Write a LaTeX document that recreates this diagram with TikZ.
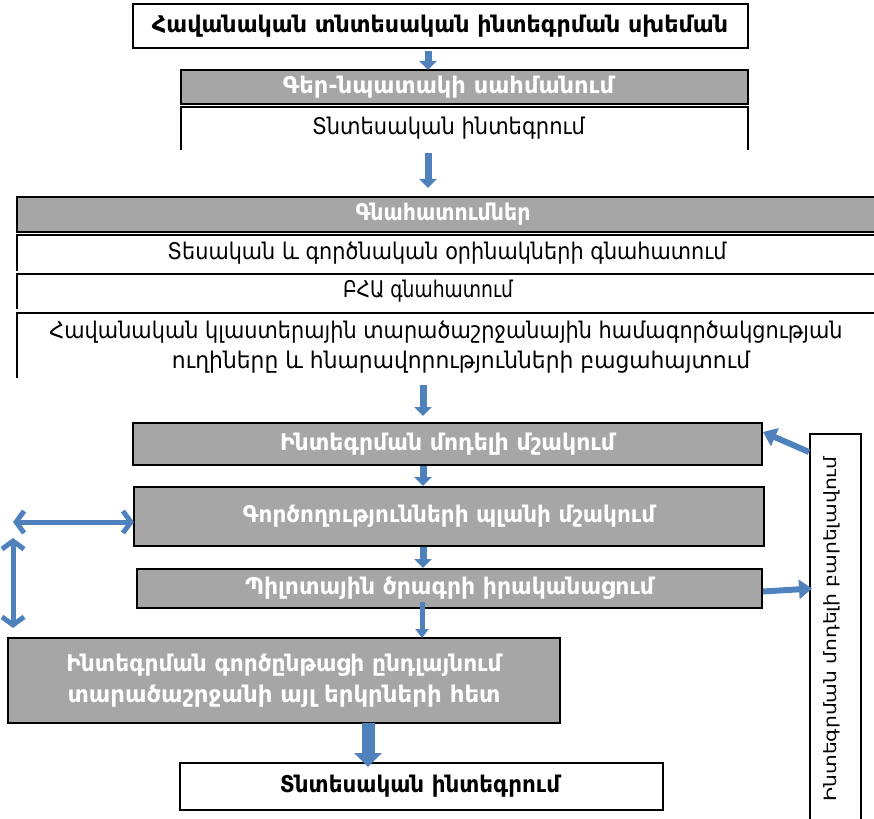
\documentclass[tikz,border=0pt]{standalone}
\usepackage{graphicx}
\usepackage{fontspec}
\setmainfont{DejaVu Sans}
\usetikzlibrary{arrows.meta,calc}
\definecolor{gbox}{HTML}{A6A6A6}
\definecolor{arr}{HTML}{4F81BD}
\newcommand\fw[2]{\resizebox{#1pt}{\height}{#2}}
\begin{document}
\begin{tikzpicture}[x=1pt,y=-1pt,
  frame/.style={draw=black,line width=2pt,inner sep=0pt,outer sep=0pt},
  graybox/.style={frame,fill=gbox,text=white,align=center,font=\bfseries\fontsize{23}{31}\selectfont},
  emptybox/.style={inner sep=0pt,outer sep=0pt},
  txt/.style={inner sep=0pt,font=\fontsize{23}{26}\selectfont},
  btxt/.style={inner sep=0pt,font=\bfseries\fontsize{23}{26}\selectfont},
  wtxt/.style={inner sep=0pt,text=white,font=\bfseries\fontsize{23}{26}\selectfont},
  sidetxt/.style={inner sep=0pt,font=\fontsize{17}{20}\selectfont},
  openside/.style={line width=2pt},
  downarr/.style={draw=arr,line width=7pt,-{Triangle[length=9pt,width=17pt]}},
  thinarr/.style={draw=arr,line width=5pt,-{Triangle[length=9pt,width=13pt]}},
  bigarr/.style={draw=arr,line width=13pt,-{Triangle[length=14pt,width=27pt]}},
  sidearr/.style={draw=arr,line width=6pt,-{Triangle[length=13pt,width=19pt]}},
  dblarr/.style={draw=arr,line width=5pt,{Straight Barb[length=8pt,width=22pt]}-{Straight Barb[length=8pt,width=22pt]}}
]
\useasboundingbox (0,0) rectangle (874,818);
\clip (0,0) rectangle (874,818);

% columns for the arrows
\coordinate (c1) at (428,0);
\coordinate (c2) at (423,0);
\coordinate (c3) at (422,0);
\coordinate (c4) at (368,0);

% top part
\node[frame,line width=2.5pt,minimum width=615pt,minimum height=44pt] (t1) at (440.5,26) {};
\node[btxt] (t1t) at (440,26) {\fw{576}{Հավանական տնտեսական ինտեգրման սխեման}};

\node[frame,line width=1.5pt,fill=gbox,minimum width=567pt,minimum height=34pt] (g1) at (464.5,87) {};
\node[wtxt] (g1t) at (448.5,87) {\fw{331}{Գեր-նպատակի սահմանում}};

\node[emptybox,minimum width=567pt,minimum height=43pt] (w1) at (464.5,128.5) {};
\draw[openside] (w1.south west) -- (w1.north west) -- (w1.north east) -- (w1.south east);
\node[txt] (w1t) at (448.5,128) {\fw{273}{Տնտեսական ինտեգրում}};

% evaluation block
\node[frame,fill=gbox,minimum width=873pt,minimum height=35pt] (g2) at (453.5,214.5) {};
\node[wtxt] (g2t) at (443,214.5) {\fw{175}{Գնահատումներ}};

\node[emptybox,minimum width=873pt,minimum height=36pt] (w2) at (453.5,253) {};
\draw[openside] (w2.south west) -- (w2.north west) -- (w2.north east) -- (w2.south east);
\node[txt] (w2t) at (447,253) {\fw{559}{Տեսական և գործնական օրինակների գնահատում}};

\node[emptybox,minimum width=873pt,minimum height=35pt] (w3) at (453.5,291.5) {};
\draw[openside] (w3.south west) -- (w3.north west) -- (w3.north east) -- (w3.south east);
\node[txt] (w3t) at (428,291.5) {\fw{170}{ԲՀԱ գնահատում}};

\node[emptybox,minimum width=873pt,minimum height=65pt] (w4) at (453.5,345.5) {};
\draw[openside] (w4.south west) -- (w4.north west) -- (w4.north east) -- (w4.south east);
\node[txt] (w4a) at (446,332) {\fw{793}{Հավանական կլաստերային տարածաշրջանային համագործակցության}};
\node[txt] (w4b) at (461,362) {\fw{578}{ուղիները և հնարավորությունների բացահայտում}};

% process boxes
\node[graybox,minimum width=629pt,minimum height=42pt] (b8) at (447.5,444) {\fw{335}{Ինտեգրման մոդելի մշակում}};
\node[graybox,minimum width=630pt,minimum height=59pt] (b9) at (449,516.5) {\fw{412}{Գործողությունների պլանի մշակում}};
\node[graybox,minimum width=625pt,minimum height=39pt] (b10) at (449.5,588.5) {\fw{409}{Պիլոտային ծրագրի իրականացում}};
\node[graybox,minimum width=552pt,minimum height=85pt] (b11) at (284,680.5) {\fw{435}{Ինտեգրման գործընթացի ընդլայնում}\\\fw{433}{տարածաշրջանի այլ երկրների հետ}};
\node[frame,minimum width=483pt,minimum height=47pt] (b12) at (421.5,786.5) {};
\node[btxt] (b12t) at (420,786.5) {\fw{280}{Տնտեսական ինտեգրում}};

% right vertical box
\node[frame,minimum width=51pt,minimum height=396pt] (rb) at (835.5,632) {};
\node[sidetxt,rotate=90] (rbt) at (832,629) {\fw{345}{Ինտեգրման մոդելի բարելավում}};

% vertical flow arrows
\draw[downarr] ($(t1.south -| c1)+(0,3)$) -- (g1.north -| c1);
\draw[downarr] ($(w1.south -| c1)+(0,3)$) -- ($(g2.north -| c1)+(0,-9)$);
\draw[downarr] ($(w4.south -| c2)+(0,7)$) -- ($(b8.north -| c2)+(0,-7)$);
\draw[downarr] ($(b8.south -| c2)+(0,1)$) -- ($(b9.north -| c2)+(0,-1)$);
\draw[downarr] ($(b9.south -| c2)+(0,1)$) -- ($(b10.north -| c2)+(0,-1)$);
\draw[thinarr] ($(b10.south -| c3)+(0,-6)$) -- (b11.north -| c3);
\draw[bigarr] (b11.south -| c4) -- ($(b12.north -| c4)+(0,4)$);

% side arrows
\draw[sidearr] ($(rb.north west)+(-1,18)$) -- ($(b8.north east)+(1,9)$);
\draw[sidearr] ($(b10.east)+(1,3)$) -- ($(rb.west |- b10.east)+(2,0)$);

% double arrows on the left
\coordinate (l1) at (13,522);
\coordinate (l2) at (13,538);
\coordinate (l3) at (13,628);
\draw[dblarr] (l1) -- (b9.west |- l1);
\draw[dblarr] (l2) -- (l3);
\end{tikzpicture}
\end{document}
